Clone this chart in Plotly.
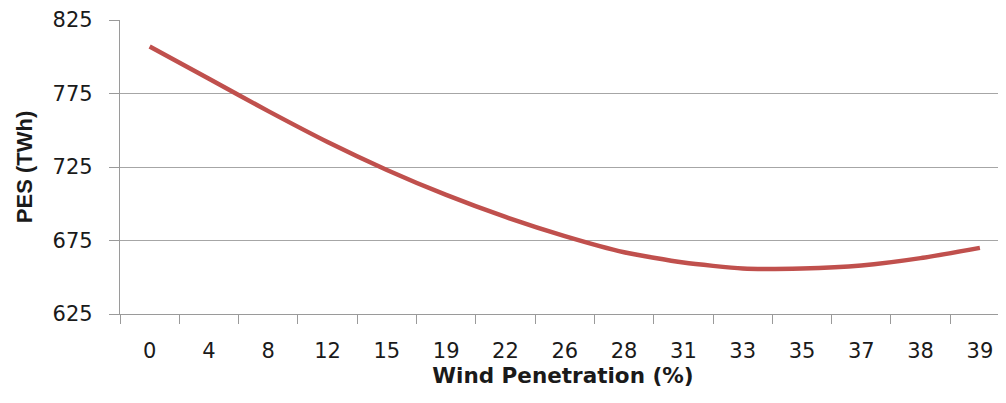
import plotly.graph_objects as go

categories = ["0", "4", "8", "12", "15", "19", "22", "26", "28", "31", "33", "35", "37", "38", "39"]
pes_twh = [807, 785, 763, 742, 723, 706, 691, 678, 667, 660, 656, 656, 658, 663, 670]
y_ticks = [625, 675, 725, 775, 825]

fig = go.Figure()
fig.add_trace(go.Scatter(
    x=categories, y=pes_twh, mode="lines",
    line=dict(color="#C0504D", width=4.5, shape="spline", smoothing=0.6),
    showlegend=False,
))

tick_font = dict(size=21, family="DejaVu Sans", color="#1a1a1a")
fig.update_layout(
    width=998, height=395,
    margin=dict(l=112, r=0, t=12, b=89),
    paper_bgcolor="white", plot_bgcolor="white",
    font=dict(family="DejaVu Sans", color="#1a1a1a"),
)
fig.update_xaxes(
    type="category", range=[-0.5, 14.44],
    showgrid=False, showline=True, linecolor="#9a9a9a", linewidth=1.3,
    ticks="outside", tickson="boundaries", ticklen=9, tickcolor="#9a9a9a", tickwidth=1.3,
    tickfont=tick_font,
    ticklabelstandoff=18,
    title=dict(text="<b>Wind Penetration (%)</b>",
               font=dict(size=21.5, family="DejaVu Sans", color="#1a1a1a"), standoff=0),
)
fig.update_yaxes(
    range=[625, 825], tickvals=y_ticks,
    showgrid=True, gridcolor="#a6a6a6", gridwidth=1.3,
    showline=True, linecolor="#9a9a9a", linewidth=1.3,
    ticks="outside", ticklen=10, tickcolor="#9a9a9a", tickwidth=1.3,
    tickfont=tick_font,
    ticklabelstandoff=12,
    zeroline=False,
    title=dict(text="<b>PES (TWh)</b>",
               font=dict(size=22, family="Liberation Sans", color="#1a1a1a"), standoff=13),
)

fig.write_html("out.html")
